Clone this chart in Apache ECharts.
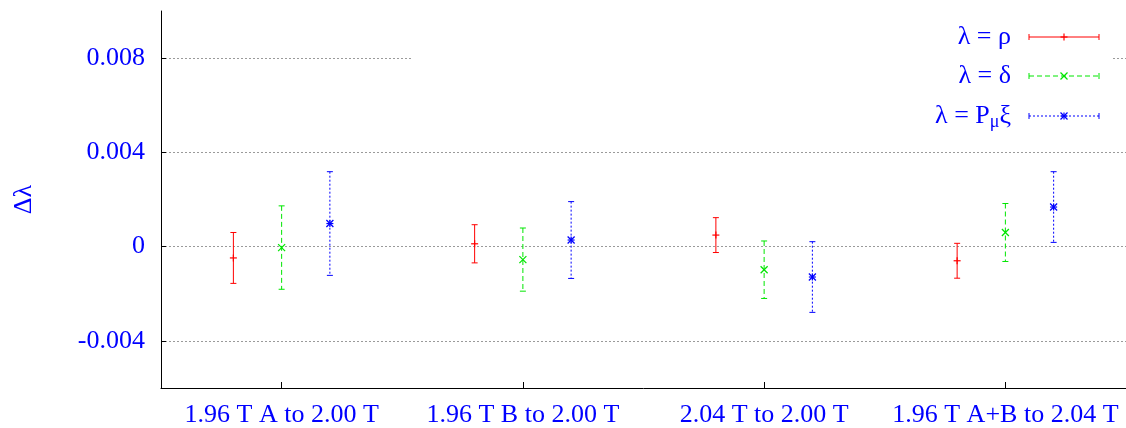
<!DOCTYPE html>
<html>
<head>
<meta charset="utf-8">
<script src="https://cdn.jsdelivr.net/npm/echarts@6/dist/echarts.min.js"></script>
<style>
  html, body { margin: 0; padding: 0; background: #fff; }
  #chart { width: 1126px; height: 428px; }
</style>
</head>
<body>
<div id="chart"></div>
<script>
// Shift comparisons between field settings, one group per pair
const categories = ['1.96 T A to 2.00 T', '1.96 T B to 2.00 T', '2.04 T to 2.00 T', '1.96 T A+B to 2.04 T'];

const rhoValues   = [-0.00048, 0.00012, 0.00049, -0.00060];
const rhoErrors   = [0.00108, 0.00081, 0.00074, 0.00074];
const deltaValues = [-0.00004, -0.00055, -0.00098, 0.00060];
const deltaErrors = [0.00177, 0.00134, 0.00122, 0.00123];
const xiValues    = [0.00098, 0.00028, -0.00129, 0.00168];
const xiErrors    = [0.00220, 0.00163, 0.00150, 0.00150];

const yTicks = [-0.004, 0, 0.004, 0.008];

const FONT = "'Liberation Serif', 'Times New Roman', serif";
const TEXT_BLUE = '#0000ff';

// point symbols drawn as short strokes
function markerLines(kind, cx, cy, r, color) {
  const segs = [];
  if (kind === 'plus' || kind === 'star') {
    segs.push([cx - r, cy, cx + r, cy], [cx, cy - r, cx, cy + r]);
  }
  if (kind === 'cross' || kind === 'star') {
    segs.push([cx - r, cy - r, cx + r, cy + r], [cx - r, cy + r, cx + r, cy - r]);
  }
  return segs.map(s => ({
    type: 'line',
    shape: { x1: s[0], y1: s[1], x2: s[2], y2: s[3] },
    style: { stroke: color, lineWidth: 1.2 }
  }));
}

const seriesDefs = [
  { key: 'rho',   label: '{m|λ = ρ}',           values: rhoValues,   errors: rhoErrors,   color: '#ff0000', dash: null,   marker: 'plus',  offset: -0.2 },
  { key: 'delta', label: '{m|λ = δ}',           values: deltaValues, errors: deltaErrors, color: '#00e600', dash: [5, 3], marker: 'cross', offset: 0 },
  { key: 'xi',    label: '{m|λ = P}{s|μ}{m|ξ}', values: xiValues,    errors: xiErrors,    color: '#0000ff', dash: [2, 2], marker: 'star',  offset: 0.2 }
];

function errorBarSeries(def) {
  return {
    type: 'custom',
    name: def.key,
    z: 5,
    data: def.values.map((v, i) => [i, v, v - def.errors[i], v + def.errors[i]]),
    encode: { x: 0, y: [1, 2, 3] },
    renderItem(params, api) {
      const band = api.size([1, 0])[0];
      const idx = api.value(0);
      const c = api.coord([idx, api.value(1)]);
      const x = c[0] + def.offset * band;
      const yLo = api.coord([idx, api.value(2)])[1];
      const yHi = api.coord([idx, api.value(3)])[1];
      const cap = 3;
      const children = [
        { type: 'line', shape: { x1: x, y1: yHi, x2: x, y2: yLo },
          style: { stroke: def.color, lineWidth: 1, lineDash: def.dash } },
        { type: 'line', shape: { x1: x - cap, y1: yHi, x2: x + cap, y2: yHi },
          style: { stroke: def.color, lineWidth: 1 } },
        { type: 'line', shape: { x1: x - cap, y1: yLo, x2: x + cap, y2: yLo },
          style: { stroke: def.color, lineWidth: 1 } }
      ].concat(markerLines(def.marker, x, c[1], 3.5, def.color));
      return { type: 'group', children };
    }
  };
}

// key box in the upper right corner: white backing, line samples, and titles for the labels
const keyRows = [37, 76, 116];
const keyGraphics = [
  { type: 'rect', z: 1, shape: { x: 413, y: 16, width: 699, height: 126 }, style: { fill: '#fff' } }
];
const keyTitles = [];
seriesDefs.forEach((def, i) => {
  const y = keyRows[i];
  const x1 = 1029, x2 = 1099, xm = 1064;
  keyTitles.push({
    text: def.label,
    right: 115,
    top: y - 15,
    padding: 0,
    z: 20,
    textStyle: {
      fontWeight: 'normal',
      rich: {
        m: { color: TEXT_BLUE, fontFamily: FONT, fontSize: 26, fontWeight: 'normal', lineHeight: 30, verticalAlign: 'middle' },
        s: { color: TEXT_BLUE, fontFamily: FONT, fontSize: 18, fontWeight: 'normal', lineHeight: 22, verticalAlign: 'bottom' }
      }
    }
  });
  keyGraphics.push({
    type: 'group', z: 11,
    children: [
      { type: 'line', z: 11, shape: { x1: x1, y1: y, x2: x2, y2: y }, style: { stroke: def.color, lineWidth: 1, lineDash: def.dash } },
      { type: 'line', z: 11, shape: { x1: x1, y1: y - 3, x2: x1, y2: y + 3 }, style: { stroke: def.color, lineWidth: 1 } },
      { type: 'line', z: 11, shape: { x1: x2, y1: y - 3, x2: x2, y2: y + 3 }, style: { stroke: def.color, lineWidth: 1 } }
    ].concat(markerLines(def.marker, xm, y, 3.5, def.color).map(e => Object.assign(e, { z: 11 })))
  });
});

const chart = echarts.init(document.getElementById('chart'), null, { renderer: 'canvas' });
chart.setOption({
  animation: false,
  backgroundColor: '#fff',
  title: keyTitles,
  grid: { left: 161, right: -4, top: 11, bottom: 39, containLabel: false },
  xAxis: {
    type: 'category',
    data: categories,
    boundaryGap: true,
    axisLine: { show: true, onZero: false, lineStyle: { color: '#000', width: 1 } },
    axisTick: { show: true, inside: true, length: 6, alignWithLabel: true, lineStyle: { color: '#000' } },
    axisLabel: { color: TEXT_BLUE, fontFamily: FONT, fontSize: 26, margin: 14, interval: 0 },
    splitLine: { show: false }
  },
  yAxis: {
    type: 'value',
    min: -0.006,
    max: 0.01,
    name: 'Δλ',
    nameLocation: 'middle',
    nameRotate: 90,
    nameGap: 124,
    nameTextStyle: { color: TEXT_BLUE, fontFamily: FONT, fontSize: 26 },
    axisLine: { show: true, onZero: false, lineStyle: { color: '#000', width: 1 } },
    axisTick: { show: true, inside: true, length: 5, customValues: yTicks, lineStyle: { color: '#000' } },
    axisLabel: {
      color: TEXT_BLUE, fontFamily: FONT, fontSize: 26, margin: 16,
      customValues: yTicks,
      formatter: v => String(+v.toFixed(3))
    },
    splitLine: { show: true, lineStyle: { color: '#9a9a9a', type: [2, 2], width: 1 } }
  },
  series: seriesDefs.map(errorBarSeries),
  graphic: keyGraphics
});
</script>
</body>
</html>
